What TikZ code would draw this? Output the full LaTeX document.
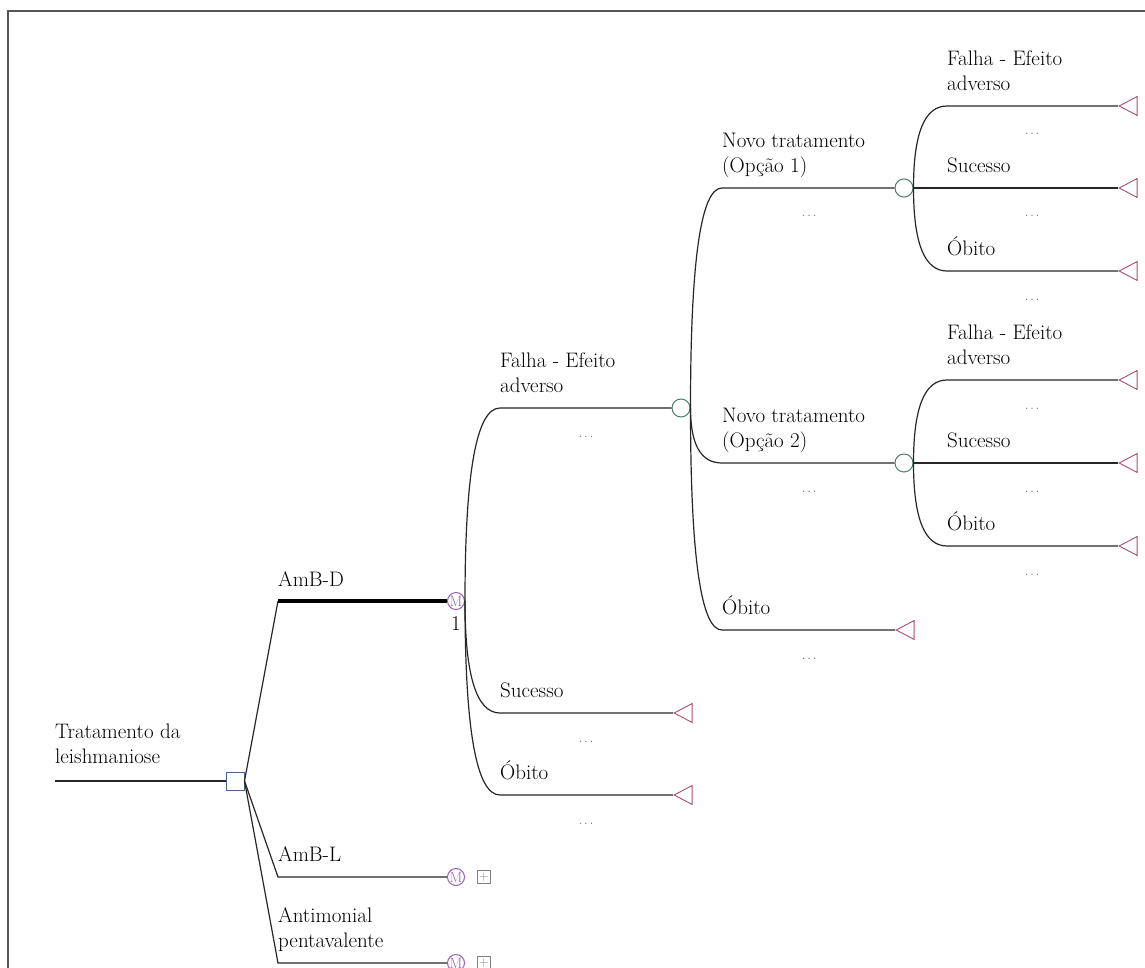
\documentclass[tikz,border=0pt]{standalone}
\usepackage{fontspec}
\usetikzlibrary{positioning, calc, shapes.geometric}
\definecolor{decblue}{RGB}{70,100,135}
\definecolor{chgreen}{RGB}{80,125,110}
\definecolor{mkvpurple}{RGB}{155,95,175}
\definecolor{termred}{RGB}{170,80,105}
\definecolor{dotgray}{RGB}{110,110,110}
\definecolor{framegray}{RGB}{85,85,85}

\begin{document}
\begin{tikzpicture}[x=1pt, y=-1pt,
  font=\fontsize{21}{25}\selectfont,
  ln/.style={line width=1.2pt, black!85},
  dec/.style={rectangle, draw=decblue, fill=white, line width=1pt, minimum size=18pt, inner sep=0pt},
  chance/.style={circle, draw=chgreen, fill=white, line width=1pt, minimum size=18pt, inner sep=0pt},
  mkv/.style={circle, draw=mkvpurple, fill=white, line width=1pt, minimum size=17pt, inner sep=0pt,
    text=mkvpurple, font=\fontsize{15}{15}\selectfont},
  term/.style={isosceles triangle, isosceles triangle stretches, shape border rotate=180, draw=termred,
    line width=0.9pt, minimum height=18pt, minimum width=19pt, inner sep=0pt, anchor=apex},
  plusbox/.style={rectangle, draw=gray, line width=0.8pt, minimum size=13pt, inner sep=0pt,
    text=gray, font=\fontsize{13}{13}\selectfont},
  lbl/.style={align=left, inner sep=0pt, text depth=0pt},
  dots/.style={anchor=base, inner sep=0pt, text=dotgray, font=\fontsize{16}{16}\selectfont},
  brcurve/.style={to path={.. controls ($(\tikztostart)!0.67!(\tikztostart|-\tikztotarget)$)
    and ($(\tikztotarget)!0.67!(\tikztostart|-\tikztotarget)$) .. (\tikztotarget)}}]

  \useasboundingbox (0,0) rectangle (1145,968);
  \draw[framegray, line width=2pt] (8,968) -- (8,11) -- (1145,11);

  % root and decision
  \coordinate (root) at (55,781);
  \node[dec] (d) at (235,781) {};
  \draw[ln] (root) -- (d);
  \node[lbl, above right=17pt and 0pt of root] (rootlbl) {Tratamento da\\leishmaniose};

  % treatment options
  \coordinate (ad) at (278,601);
  \coordinate (al) at (278,877);
  \coordinate (ap) at (278,963);
  \node[mkv] (m1) at (456,601) {M};
  \node[mkv] (m2) at (456,877) {M};
  \node[mkv] (m3) at (456,963) {M};
  \node[inner sep=0pt, below=6pt of m1] (m1n) {1};
  \node[plusbox, right=12pt of m2] (p2) {+};
  \node[plusbox, right=12pt of m3] (p3) {+};
  \draw[ln] (d.east) -- (ad);
  \draw[line width=4pt] (ad) -- (m1);
  \draw[ln] (d.east) -- (al) -- (m2);
  \draw[ln] (d.east) -- (ap) -- (m3);
  \node[lbl, above right=14pt and 0pt of ad] (adlbl) {AmB-D};
  \node[lbl, above right=15pt and 0pt of al] (allbl) {AmB-L};
  \node[lbl, above right=15pt and 0pt of ap] (aplbl) {Antimonial\\pentavalente};

  % Markov states of AmB-D
  \coordinate (f1) at (500,408);
  \coordinate (s1) at (500,713);
  \coordinate (o1) at (500,795);
  \node[chance] (c1) at (681,408) {};
  \node[term] (t1) at (673,713) {};
  \node[term] (t2) at (673,795) {};
  \draw[ln] (m1.east) to[brcurve] (f1) -- (c1);
  \draw[ln] (m1.east) to[brcurve] (s1) -- (t1.apex);
  \draw[ln] (m1.east) to[brcurve] (o1) -- (t2.apex);
  \node[lbl, above right=15pt and 0pt of f1] (f1lbl) {Falha - Efeito\\adverso};
  \node[lbl, above right=15pt and 0pt of s1] (s1lbl) {Sucesso};
  \node[lbl, above right=15pt and 0pt of o1] (o1lbl) {Óbito};

  % after failure
  \coordinate (n1) at (722,188);
  \coordinate (n2) at (722,463);
  \coordinate (o2) at (722,630);
  \node[chance] (c2) at (904,188) {};
  \node[chance] (c3) at (904,463) {};
  \node[term] (t3) at (895,630) {};
  \draw[ln] (c1.east) to[brcurve] (n1) -- (c2);
  \draw[ln] (c1.east) to[brcurve] (n2) -- (c3);
  \draw[ln] (c1.east) to[brcurve] (o2) -- (t3.apex);
  \node[lbl, above right=15pt and 0pt of n1] (n1lbl) {Novo tratamento\\(Opção 1)};
  \node[lbl, above right=15pt and 0pt of n2] (n2lbl) {Novo tratamento\\(Opção 2)};
  \node[lbl, above right=15pt and 0pt of o2] (o2lbl) {Óbito};

  % outcomes of option 1
  \coordinate (f3) at (947,106);
  \coordinate (s3) at (947,188);
  \coordinate (o3) at (947,271);
  \node[term] (t4) at (1118,106) {};
  \node[term] (t5) at (1118,188) {};
  \node[term] (t6) at (1118,271) {};
  \draw[ln] (c2.east) to[brcurve] (f3) -- (t4.apex);
  \draw[ln] (c2) -- (t5.apex);
  \draw[ln] (c2.east) to[brcurve] (o3) -- (t6.apex);
  \node[lbl, above right=15pt and 0pt of f3] (f3lbl) {Falha - Efeito\\adverso};
  \node[lbl, above right=15pt and 0pt of s3] (s3lbl) {Sucesso};
  \node[lbl, above right=15pt and 0pt of o3] (o3lbl) {Óbito};

  % outcomes of option 2
  \coordinate (f4) at (947,380);
  \coordinate (s4) at (947,463);
  \coordinate (o4) at (947,546);
  \node[term] (t7) at (1118,380) {};
  \node[term] (t8) at (1118,463) {};
  \node[term] (t9) at (1118,546) {};
  \draw[ln] (c3.east) to[brcurve] (f4) -- (t7.apex);
  \draw[ln] (c3) -- (t8.apex);
  \draw[ln] (c3.east) to[brcurve] (o4) -- (t9.apex);
  \node[lbl, above right=15pt and 0pt of f4] (f4lbl) {Falha - Efeito\\adverso};
  \node[lbl, above right=15pt and 0pt of s4] (s4lbl) {Sucesso};
  \node[lbl, above right=15pt and 0pt of o4] (o4lbl) {Óbito};

  % ellipses under the branches
  \foreach \x/\y [count=\i] in {586/437, 586/742, 586/824, 809/217, 809/492, 809/659,
      1032/135, 1032/217, 1032/300, 1032/409, 1032/492, 1032/575}
    \node[dots] (dt\i) at (\x,\y) {.\kern1.5pt.\kern1.5pt.};
\end{tikzpicture}
\end{document}
